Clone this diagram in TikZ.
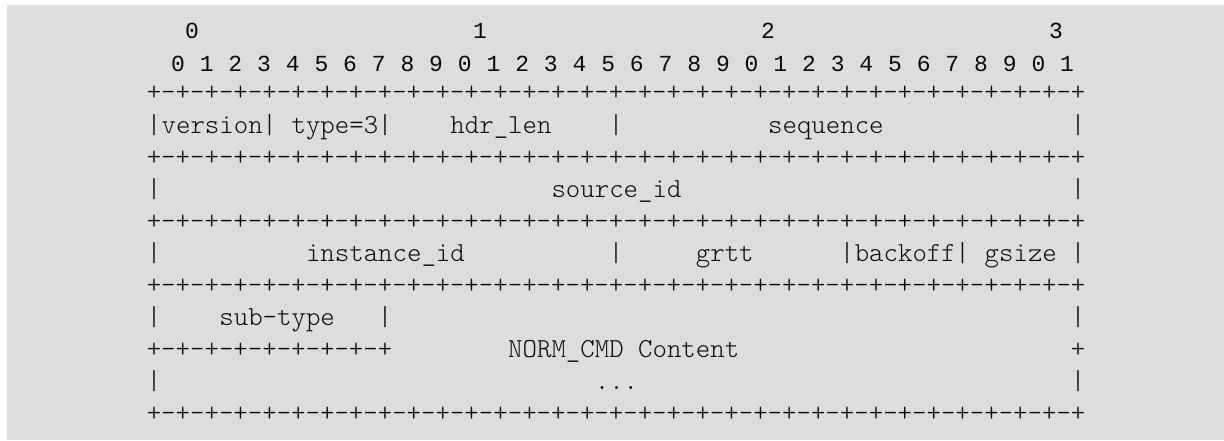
\documentclass[tikz,border=0pt]{standalone}
\usepackage{fontspec}
\newfontfamily\boxfont{lmmonolt10-regular.otf}
\newfontfamily\bitfont{Liberation Mono}
\definecolor{pagebg}{RGB}{221,221,221}
\definecolor{ink}{RGB}{10,10,10}
% column and row of the text grid, in pixels
\newcommand\colx[1]{146.8+14.44*(#1)}
\newcommand\rowy[1]{133+32.1*(#1-4)}

\begin{document}
\begin{tikzpicture}[x=0.5pt,y=-0.5pt,
    ch/.style={inner sep=0pt,anchor=base,text=ink,font=\boxfont\fontsize{13.75}{16}\selectfont},
    field/.style={inner sep=0pt,anchor=base west,text=ink,font=\boxfont\fontsize{13.75}{16}\selectfont},
    bitno/.style={inner sep=0pt,anchor=base,text=ink,font=\bitfont\fontsize{11.5}{14}\selectfont}]
  \useasboundingbox (0,0) rectangle (1224,440);
  \fill[pagebg] (7,5) rectangle (1224,440);
  % The bit numbers
  \foreach \d in {0,...,3}
    \node[bitno] (ten\d) at ({192+288*\d},38) {\d};
  \foreach \i in {0,...,31}
  {
    \pgfmathtruncatemacro\u{mod(\i,10)}
    \node[bitno] (bit\i) at ({178+28.68*\i},71) {\u};
  }
  % The full border lines
  \foreach \r in {3,5,7,9,13}
    \foreach \c in {0,...,64}
      \node[ch] (b\r-\c) at ({\colx{\c+0.5}},{\rowy{\r}}) {\ifodd\c -\else +\fi};
  % The short border under sub-type
  \foreach \c in {0,...,16}
    \node[ch] (b11-\c) at ({\colx{\c+0.5}},{\rowy{11}}) {\ifodd\c -\else +\fi};
  \node[ch] (b11-64) at ({\colx{64.5}},{\rowy{11}}) {+};
  % The separators
  \foreach \r/\cols in {4/{0,8,16,32,64},6/{0,64},8/{0,32,48,56,64},10/{0,16,64},12/{0,64}}
    \foreach \c in \cols
      \node[ch] (s\r-\c) at ({\colx{\c+0.5}},{\rowy{\r}}) {|};
  % The field names
  \node[field] (version) at ({\colx{1}},{\rowy{4}}) {version};
  \node[field] (type) at ({\colx{10}},{\rowy{4}}) {type=3};
  \node[field] (hdrlen) at ({\colx{21}},{\rowy{4}}) {hdr\_len};
  \node[field] (sequence) at ({\colx{43}},{\rowy{4}}) {sequence};
  \node[field] (sourceid) at ({\colx{28}},{\rowy{6}}) {source\_id};
  \node[field] (instanceid) at ({\colx{11}},{\rowy{8}}) {instance\_id};
  \node[field] (grtt) at ({\colx{38}},{\rowy{8}}) {grtt};
  \node[field] (backoff) at ({\colx{49}},{\rowy{8}}) {backoff};
  \node[field] (gsize) at ({\colx{58}},{\rowy{8}}) {gsize};
  \node[field] (subtype) at ({\colx{5}},{\rowy{10}}) {sub-type};
  \node[field] (content) at ({\colx{25}},{\rowy{11}}) {NORM\_CMD Content};
  \node[field] (dots) at ({\colx{31}},{\rowy{12}}) {...};
\end{tikzpicture}
\end{document}
